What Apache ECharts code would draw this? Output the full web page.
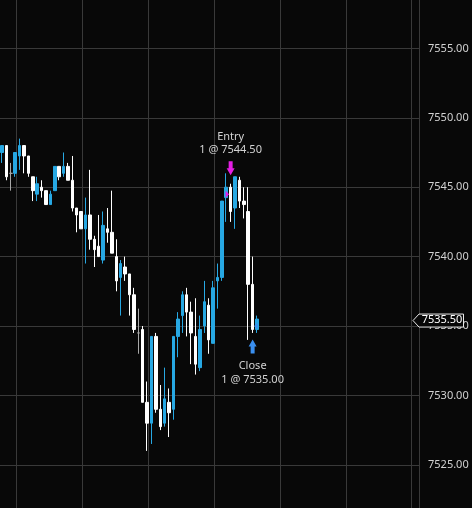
<!DOCTYPE html>
<html>
<head>
<meta charset="utf-8">
<script src="https://cdn.jsdelivr.net/npm/echarts@6/dist/echarts.min.js"></script>
<style>
html,body{margin:0;padding:0;background:#080808;}
#c{width:472px;height:508px;}
</style>
</head>
<body>
<div id="c"></div>
<script>
// ---- data ----
const opens  = [7547.5,7548.0,7546.0,7546.0,7547.25,7548.0,7547.25,7545.75,7544.5,7545.0,
                7544.75,7543.75,7544.75,7546.5,7546.0,7546.5,7545.5,7543.5,7543.25,7542.0,
                7543.0,7541.25,7540.75,7539.75,7542.0,7541.75,7540.0,7538.5,7539.25,7538.75,
                7537.25,7534.5,7534.75,7529.5,7528.0,7534.25,7529.0,7528.0,7529.5,7529.0,
                7534.25,7535.75,7537.25,7536.0,7534.25,7532.0,7535.0,7536.5,7533.75,7538.25,
                7538.5,7544.25,7545.0,7543.5,7545.5,7544.0,7543.25,7538.0,7534.75];
const closes = [7548.0,7545.75,7546.0,7547.5,7548.0,7547.25,7546.0,7544.75,7545.25,7544.75,
                7543.75,7544.5,7546.5,7545.75,7546.5,7545.5,7543.5,7543.0,7542.0,7543.0,
                7541.25,7540.5,7540.0,7542.25,7541.75,7540.25,7538.25,7539.5,7538.75,7537.25,
                7534.75,7534.5,7529.5,7528.0,7534.25,7529.0,7527.75,7529.75,7528.75,7534.25,
                7535.5,7537.25,7536.0,7534.5,7532.25,7534.75,7536.75,7534.0,7537.75,7538.5,
                7544.0,7545.0,7543.25,7545.75,7544.0,7543.75,7538.0,7534.75,7535.5];
const lows   = [7546.75,7545.5,7544.75,7545.75,7546.25,7546.0,7545.75,7544.0,7544.0,7544.25,
                7543.75,7543.75,7544.75,7545.5,7545.75,7545.5,7543.25,7541.75,7542.0,7539.5,
                7540.5,7539.25,7540.0,7539.5,7541.0,7540.25,7537.5,7535.75,7538.25,7535.75,
                7534.5,7533.0,7529.5,7526.0,7526.5,7528.75,7527.5,7527.75,7527.0,7528.25,
                7532.75,7534.5,7534.25,7532.25,7531.5,7531.75,7534.5,7533.0,7533.75,7536.25,
                7538.25,7542.5,7542.5,7542.0,7543.5,7542.75,7534.0,7534.5,7534.5];
const highs  = [7548.0,7548.0,7546.75,7547.5,7548.5,7548.0,7547.25,7545.75,7545.75,7545.5,
                7544.75,7544.75,7546.5,7546.5,7547.5,7546.75,7547.25,7543.5,7543.25,7544.25,
                7546.25,7541.5,7543.0,7543.25,7543.5,7544.75,7541.25,7539.75,7540.0,7538.75,
                7537.75,7536.25,7535.0,7531.0,7534.25,7534.5,7530.75,7532.0,7530.5,7534.25,
                7536.0,7537.5,7537.75,7536.75,7537.0,7535.75,7538.25,7537.0,7538.25,7539.5,
                7544.0,7546.0,7545.25,7545.75,7545.75,7545.0,7545.0,7540.0,7535.75];
const priceTicks = [7520, 7560, 5];          // axis min, max, step
const entryIndex = 52, entryPrice = 7544.50, entryQty = 1, entryLabel = 'Entry';
const closeIndex = 57, closePrice = 7535.00, closeQty = 1, closeLabel = 'Close';
const lastPrice = closes[closes.length - 1];

// ---- layout ----
const W = 472, H = 508;
const STEP = 4.397;          // px per bar
const FIRST_X = 2;           // px centre of first bar
const AXIS_X = 419;          // right axis line
const V_EVERY = 15;          // vertical grid every n bars
const FIRST_VLINE_X = 16;
const gridLeft = FIRST_VLINE_X - V_EVERY * STEP;
const xOffset = (FIRST_X - gridLeft) / STEP;
const xMax = (AXIS_X - gridLeft) / STEP;
const PX_PER_PT = 13.88, Y7555 = 48.4;
const gridTop = Y7555 - (priceTicks[1] - 7555) * PX_PER_PT;
const gridBottomY = Y7555 + (7555 - priceTicks[0]) * PX_PER_PT;

const BG = '#080808';
const BLUE = '#27a8e3', WHITE = '#ffffff', DOJI = '#a8a8a8';
const GRIDC = '#393939', TXT = '#d2d2d2';
const FONT = 'Noto Sans';

const candles = opens.map((o, i) => [i + xOffset, o, closes[i], lows[i], highs[i]]);

const chart = echarts.init(document.getElementById('c'), null, {renderer: 'canvas'});
chart.setOption({
  animation: false,
  backgroundColor: BG,
  grid: {left: gridLeft, right: W - AXIS_X, top: gridTop, bottom: H - gridBottomY,
         containLabel: false, outerBoundsMode: 'none'},
  xAxis: {
    type: 'value', min: 0, max: xMax, interval: V_EVERY,
    axisLine: {show: false}, axisTick: {show: false}, axisLabel: {show: false},
    splitLine: {show: true, lineStyle: {color: GRIDC, width: 1}}
  },
  yAxis: {
    type: 'value', position: 'right', min: priceTicks[0], max: priceTicks[1], interval: priceTicks[2],
    axisLine: {show: true, lineStyle: {color: '#d8d8d8', width: 1}},
    axisTick: {show: true, length: 4, inside: false, lineStyle: {color: '#d8d8d8'}},
    axisLabel: {color: TXT, fontSize: 11, fontFamily: FONT, margin: 9,
                formatter: v => v.toFixed(2)},
    splitLine: {show: true, lineStyle: {color: GRIDC, width: 1}}
  },
  series: [{
    type: 'candlestick',
    data: candles,
    encode: {x: 0, y: [1, 2, 3, 4]},
    barWidth: 3,
    itemStyle: {color: BLUE, color0: WHITE, borderColor: BLUE, borderColor0: WHITE,
                borderColorDoji: DOJI, borderWidth: 1}
  }]
});

// ---- annotations positioned through the chart's scales ----
const px = (i, p) => chart.convertToPixel({xAxisIndex: 0, yAxisIndex: 0}, [i + xOffset, p]);
const g = [];
// entry
{
  const [cx, yHigh] = px(entryIndex, highs[entryIndex]);
  const tip = yHigh - 8.5;
  g.push({type: 'polygon', z: 100, shape: {points: [
    [cx - 2, tip - 14], [cx + 2, tip - 14], [cx + 2, tip - 7], [cx + 4, tip - 7],
    [cx, tip], [cx - 4, tip - 7], [cx - 2, tip - 7]]}, style: {fill: '#e41ee4'}});
  g.push({type: 'text', z: 100, x: cx, y: tip - 25, style: {text: entryQty + ' @ ' + entryPrice.toFixed(2),
    fill: TXT, font: '11px "' + FONT + '"', align: 'center', verticalAlign: 'middle'}});
  g.push({type: 'text', z: 100, x: cx, y: tip - 38.5, style: {text: entryLabel,
    fill: TXT, font: '11px "' + FONT + '"', align: 'center', verticalAlign: 'middle'}});
  const [, ye] = px(entryIndex, entryPrice);
  g.push({type: 'polygon', z: 100, shape: {points: [[cx - 5, ye - 3.5], [cx - 1.5, ye], [cx - 5, ye + 3.5]]},
    style: {fill: '#e41ee4'}});
}
// close
{
  const [cx, yLow] = px(closeIndex, lows[closeIndex]);
  const tip = yLow + 6.5;
  g.push({type: 'polygon', z: 100, shape: {points: [
    [cx - 2, tip + 14], [cx + 2, tip + 14], [cx + 2, tip + 7], [cx + 4, tip + 7],
    [cx, tip], [cx - 4, tip + 7], [cx - 2, tip + 7]]}, style: {fill: '#3a8ff0'}});
  g.push({type: 'text', z: 100, x: cx, y: tip + 26, style: {text: closeLabel,
    fill: TXT, font: '11px "' + FONT + '"', align: 'center', verticalAlign: 'middle'}});
  g.push({type: 'text', z: 100, x: cx, y: tip + 40, style: {text: closeQty + ' @ ' + closePrice.toFixed(2),
    fill: TXT, font: '11px "' + FONT + '"', align: 'center', verticalAlign: 'middle'}});
  const [, yc] = px(closeIndex, closePrice);
  g.push({type: 'polygon', z: 100, shape: {points: [[cx + 5, yc - 3.5], [cx + 1.5, yc], [cx + 5, yc + 3.5]]},
    style: {fill: '#3a8ff0'}});
}
// last price box on the axis
{
  const [, yl] = px(0, lastPrice);
  const c = yl + 1.5;
  g.push({type: 'polygon', z: 100, shape: {points: [
    [AXIS_X - 6, c], [AXIS_X, c - 6.5], [AXIS_X + 44.5, c - 6.5], [AXIS_X + 44.5, c + 6.5], [AXIS_X, c + 6.5]]},
    style: {fill: BG, stroke: '#e8e8e8', lineWidth: 1}});
  g.push({type: 'text', z: 101, x: AXIS_X + 23, y: yl + 1, style: {text: lastPrice.toFixed(2),
    fill: '#ffffff', font: '11px "' + FONT + '"', align: 'center', verticalAlign: 'middle'}});
}
chart.setOption({graphic: g});
</script>
</body>
</html>
